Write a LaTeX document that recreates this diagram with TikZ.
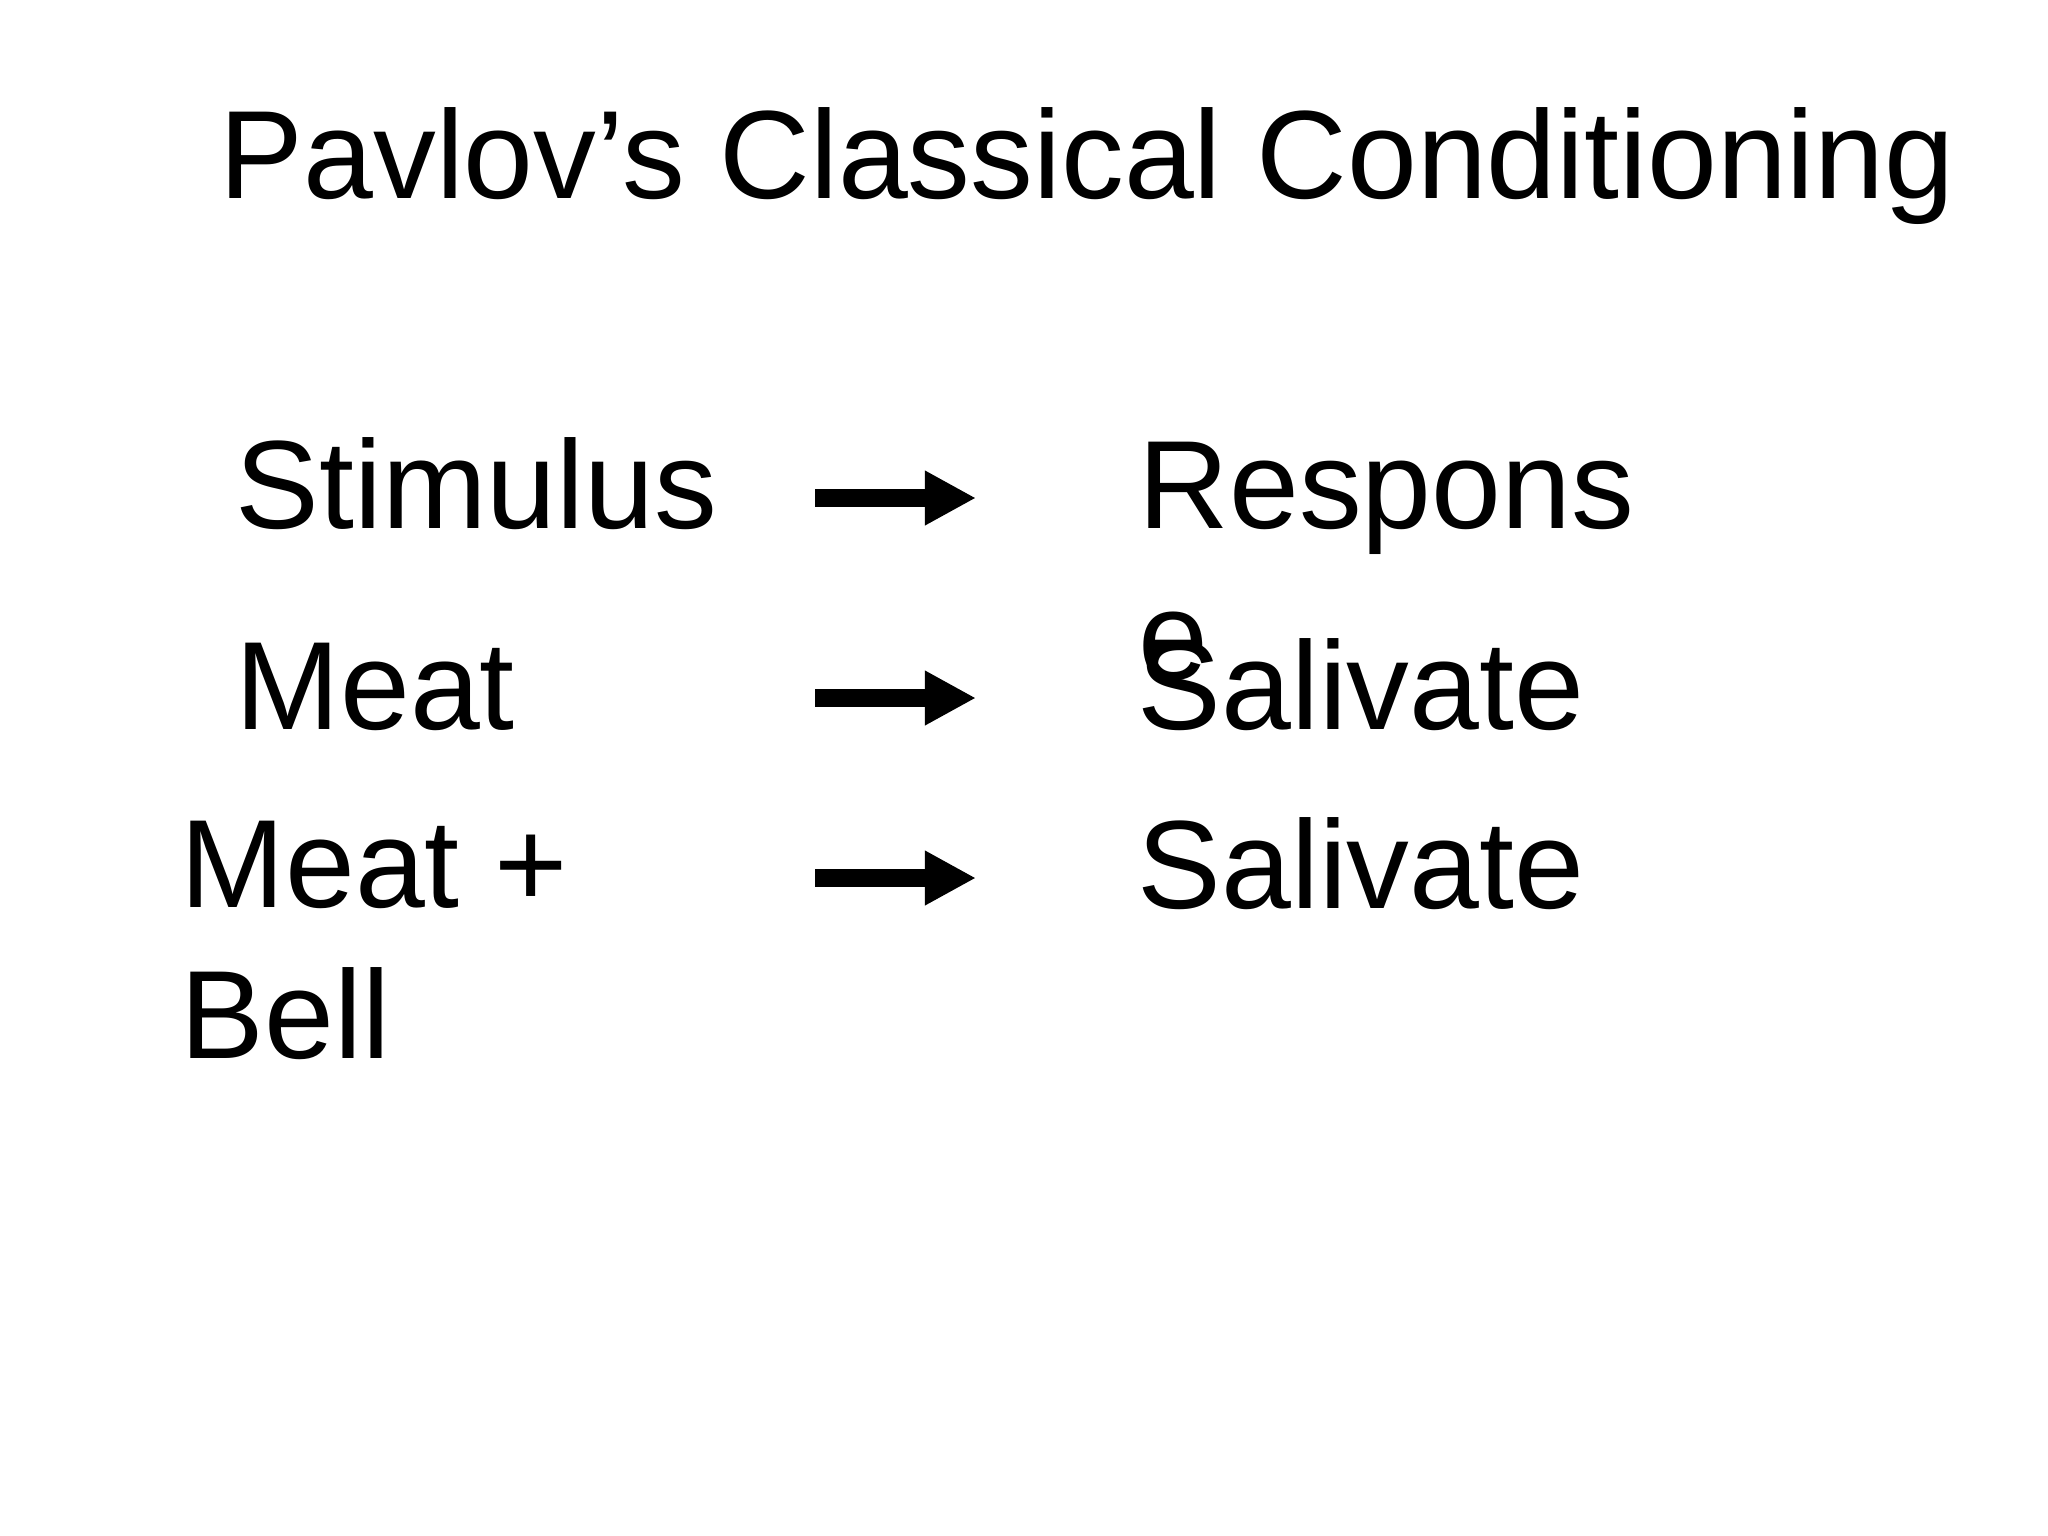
\documentclass[tikz,border=0pt]{standalone}
\usepackage{fontspec}
\setmainfont{Liberation Sans}
\usetikzlibrary{arrows.meta}

\begin{document}
\begin{tikzpicture}[x=0.01cm, y=-0.01cm, >={Triangle[length=0.51cm, width=0.51cm]},
    txt/.style={anchor=base west, inner sep=0pt, font=\fontsize{35.7}{42.7}\selectfont, align=left},
    pfeil/.style={->, line width=0.18cm}]
    \useasboundingbox (0,0) rectangle (2048,1536);

    % Titel
    \node[txt] (titel) at (219,198) {Pavlov’s Classical Conditioning};

    % links (zweizeilig: base = letzte Zeile)
    \node[txt] (stim) at (235,528) {Stimulus};
    \node[txt] (meat) at (235,729) {Meat};
    \node[txt] (meatbell) at (180,1058) {Meat +\\Bell};

    % rechts
    \node[txt] (resp) at (1138,679) {Respons\\e};
    \node[txt] (sal1) at (1137,729) {Salivate};
    \node[txt] (sal2) at (1137,908) {Salivate};

    % Pfeile
    \coordinate (p1a) at (815,498);  \coordinate (p1b) at (976,498);
    \coordinate (p2a) at (815,698);  \coordinate (p2b) at (976,698);
    \coordinate (p3a) at (815,878);  \coordinate (p3b) at (976,878);
    \draw[pfeil] (p1a) -- (p1b);
    \draw[pfeil] (p2a) -- (p2b);
    \draw[pfeil] (p3a) -- (p3b);
\end{tikzpicture}
\end{document}
